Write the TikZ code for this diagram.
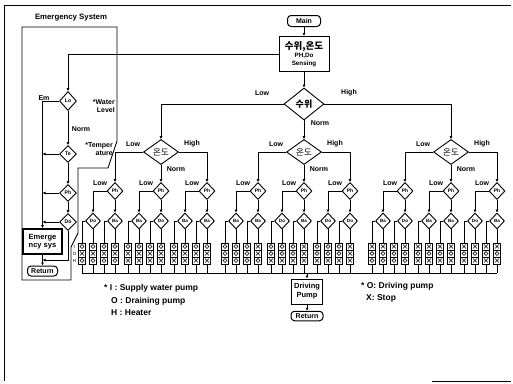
\documentclass[tikz,border=0pt]{standalone}
\usepackage{fontspec}
\setmainfont{Liberation Sans}
\newfontfamily\kr{Noto Sans CJK KR}
\usetikzlibrary{shapes.geometric,arrows.meta}
\newcommand\symX[2]{\draw[symln] ({#1-2},{#2-2}) -- ({#1+2},{#2+2}) ({#1-2},{#2+2}) -- ({#1+2},{#2-2});}
\newcommand\symO[2]{\draw[symln] (#1,#2) circle[radius=1.9pt];}
\newcommand\dlab[1]{\ifcase#1 Do\or Ba\or Ba\or Do\or Ba\or Ba\or Ba\or Ba\or Do\or Ba\or Do\or Do\or Ba\or Do\or Ba\or Ba\or Do\or Ba\fi}
\begin{document}
\begin{tikzpicture}[x=1pt,y=-1pt,
  ln/.style={line width=0.9pt},
  arr/.style={ln,-{Latex[length=3pt,width=3pt]}},
  symln/.style={line width=0.55pt},
  lab/.style={inner sep=0pt,font=\bfseries\fontsize{7}{8}\selectfont},
  leg/.style={inner sep=0pt,anchor=west,font=\bfseries\fontsize{8.5}{10}\selectfont},
  box/.style={draw,line width=1pt,inner sep=0pt,align=center},
  rbox/.style={draw,line width=1pt,rounded corners=3.5pt,inner sep=0pt,align=center},
  dia/.style={draw,diamond,line width=0.9pt,inner sep=0pt,aspect=1},
  phd/.style={dia,minimum width=16pt,minimum height=17pt,font=\bfseries\fontsize{5}{5}\selectfont},
  dd/.style={dia,minimum width=15pt,minimum height=16pt,font=\bfseries\fontsize{4.6}{5}\selectfont},
  colbox/.style={draw,line width=0.8pt,minimum width=7pt,minimum height=21pt,inner sep=0pt},
  tdia/.style={dia,minimum width=35pt,minimum height=25pt,font=\kr\fontsize{8.5}{8.5}\selectfont},
  edia/.style={dia,minimum width=17pt,minimum height=17pt,font=\bfseries\fontsize{5.2}{6}\selectfont}
]
\useasboundingbox (0,0) rectangle (513,383);
% page frame
\draw[line width=0.7pt] (511,5) -- (4,5) -- (4,381);
\draw[line width=0.7pt] (432,381) -- (511,381);
\begin{scope}[yshift=29pt]
% emergency enclosure
\draw[ln] (22,56) -- (117,56) -- (117,170) -- (108,197) -- (78,197) -- (78,262) -- (71,276) -- (71,309) -- (22,309) -- cycle;
\node[lab,font=\bfseries\fontsize{7.8}{9}\selectfont] (emtitle) at (71,47) {Emergency System};
% top
\node[rbox,minimum width=33pt,minimum height=11pt,font=\bfseries\fontsize{7}{7}\selectfont] (main) at (304,50) {Main};
\node[box,minimum width=50pt,minimum height=35pt,font=\bfseries\fontsize{6.3}{7.8}\selectfont] (sens) at (304,83) {{\kr\bfseries\fontsize{9.5}{10}\selectfont 수위,온도}\\PH,Do\\Sensing};
\draw[arr] (main) -- (sens);
\node[dia,minimum width=40pt,minimum height=32pt,font=\kr\bfseries\fontsize{9}{9}\selectfont] (sw) at (304,133) {수위};
\draw[arr] (sens) -- (sw);
\node[lab] (swl) at (262,122) {Low};
\node[lab] (swh) at (349,122) {High};
\node[lab] (swn) at (320,152) {Norm};
% temperature diamonds
\foreach \gi/\tx in {1/161,2/304,3/451}{
  \node[tdia] (t\gi) at (\tx,181) {온도};
  \node[lab] at (\tx-28,173) {Low};
  \node[lab] at (\tx+31,173) {High};
  \node[lab] at (\tx+15,198) {Norm};
}
\draw[arr] (sw.west) -| (t1.north);
\draw[arr] (sw.south) -- (t2.north);
\draw[arr] (sw.east) -| (t3.north);
% lower tree
\foreach \gi/\tx in {1/161,2/304,3/451}{
  \foreach \ki/\off in {1/-46,2/0,3/46}{
    \pgfmathsetmacro\px{\tx+\off}
    \node[phd] (ph\gi\ki) at (\px,220) {Ph};
    \node[lab] at (\px-15,212) {Low};
    \foreach \ji/\doff in {1/-22,2/0}{
      \pgfmathsetmacro\dx{\px+\doff}
      \pgfmathtruncatemacro\idx{(\gi-1)*6+(\ki-1)*2+\ji-1}
      \node[dd] (d\gi\ki\ji) at (\dx,250) {\dlab{\idx}};
      \ifnum\ji=1 \draw[arr] (ph\gi\ki.west) -| (d\gi\ki\ji.north);
      \else \draw[arr] (ph\gi\ki.south) -- (d\gi\ki\ji.north);\fi
      \foreach \mi/\coff in {1/-11,2/0}{
        \pgfmathsetmacro\cx{\dx+\coff}
        \pgfmathtruncatemacro\bad{((\ji==1)||(\mi==1))}
        \pgfmathtruncatemacro\sI{((\gi==1)||((\gi==2)&&(\bad==1)))}
        \pgfmathtruncatemacro\sO{((\gi==3)||((\gi==2)&&(\bad==1)))}
        \pgfmathtruncatemacro\sH{(\ki==1)}
        \node[colbox] (c\gi\ki\ji\mi) at (\cx,282.5) {};
        \draw[symln] (\cx-3.5,279) -- (\cx+3.5,279) (\cx-3.5,286) -- (\cx+3.5,286);
        \ifnum\sI=1 \symO{\cx}{275.5}\else\symX{\cx}{275.5}\fi
        \ifnum\sO=1 \symO{\cx}{282.5}\else\symX{\cx}{282.5}\fi
        \ifnum\sH=1 \symO{\cx}{289.5}\else\symX{\cx}{289.5}\fi
        \ifnum\mi=1 \draw[ln] (d\gi\ki\ji.west) -| (c\gi\ki\ji\mi.north);
        \else \draw[ln] (d\gi\ki\ji.south) -- (c\gi\ki\ji\mi.north);\fi
        \draw[ln] (c\gi\ki\ji\mi.south) -- (\cx,302);
      }
    }
  }
}
\foreach \gi in {1,2,3}{
  \draw[arr] (t\gi.west) -| (ph\gi1.north);
  \draw[arr] (t\gi.south) -- (ph\gi2.north);
  \draw[arr] (t\gi.east) -| (ph\gi3.north);
}
% row labels
\node[lab,font=\fontsize{4.5}{5}\selectfont] (rI) at (74.5,275.5) {I};
\node[lab,font=\fontsize{4.5}{5}\selectfont] (rO) at (74.5,282.5) {O};
\node[lab,font=\fontsize{4.5}{5}\selectfont] (rH) at (74.5,289.5) {H};
% bus and driving pump
\coordinate (busL) at (82,302);
\coordinate (busR) at (497,302);
\draw[ln] (busL) -- (busR);
\node[box,minimum width=31pt,minimum height=25pt,font=\bfseries\fontsize{7.5}{9}\selectfont] (dp) at (307,320.5) {Driving\\Pump};
\draw[arr] (dp.north |- busL) -- (dp.north);
\node[rbox,minimum width=32pt,minimum height=9.5pt,font=\bfseries\fontsize{7}{7}\selectfont] (ret2) at (307,345) {Return};
\draw[arr] (dp) -- (ret2);
% emergency checks
\node[edia,minimum height=19pt] (lo) at (68,130) {Lo};
\node[edia] (te) at (68,183) {Te};
\node[edia] (ph0) at (68,222) {Ph};
\node[edia] (do0) at (68,251) {Do};
\draw[arr] (sens.west) -| (lo.north);
\draw[arr] (lo) -- (te);
\draw[arr] (te) -- (ph0);
\draw[arr] (ph0) -- (do0);
\node[box,line width=1.8pt,minimum width=39pt,minimum height=25pt,font=\bfseries\fontsize{7.5}{8.5}\selectfont] (emg) at (42.5,270.5) {Emerge\\ncy sys};
\draw[arr] (lo.west) -| (emg.north);
\draw[arr] (te.west) -- (te.west -| emg.north);
\draw[arr] (ph0.west) -- (ph0.west -| emg.north);
\draw[arr] (do0.west) -- (do0.west -| emg.north);
\node[rbox,minimum width=30pt,minimum height=10pt,font=\bfseries\fontsize{7}{7}\selectfont] (ret1) at (42.5,300) {Return};
\draw[arr] (emg) -- (ret1);
\coordinate (dn) at (68,289);
\draw[arr] (do0.south) -- (dn) -- (dn -| ret1.north);
\node[lab] (eml) at (44,127) {Em};
\node[lab,align=right,anchor=east,font=\bfseries\fontsize{7}{8.5}\selectfont] (wl) at (115,135) {*Water\\Level};
\node[lab] (lon) at (81,158) {Norm};
\node[lab,align=right,anchor=east,font=\bfseries\fontsize{7}{8.5}\selectfont] (tl) at (113,178) {*Temper\\ature};
% legends
\node[leg] (lg1) at (104,317) {* I : Supply water pump};
\node[leg] (lg2) at (111,330) {O : Draining pump};
\node[leg] (lg3) at (111,342) {H : Heater};
\node[leg] (lg4) at (361,315) {* O: Driving pump};
\node[leg] (lg5) at (366,327) {X: Stop};
\end{scope}
\end{tikzpicture}
\end{document}
